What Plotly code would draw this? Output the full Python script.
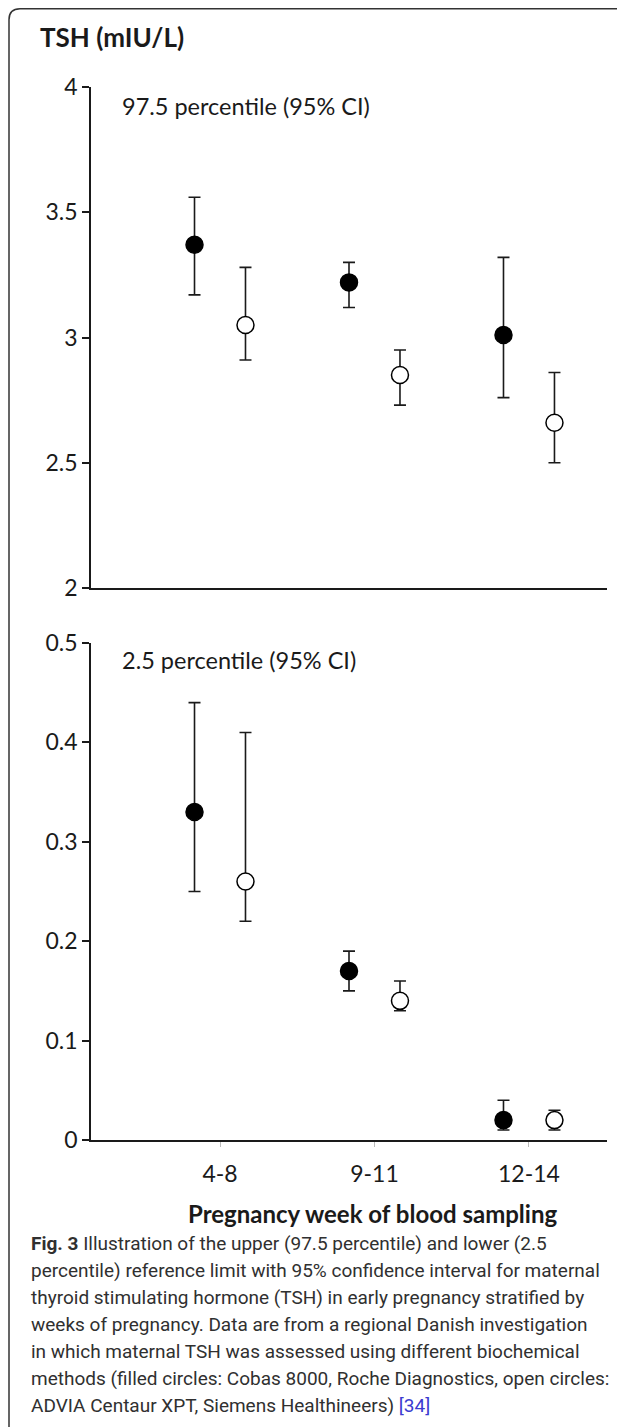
import plotly.graph_objects as go
from plotly.subplots import make_subplots

categories = ["4-8", "9-11", "12-14"]

# 97.5 percentile (upper reference limit)
upper_cobas = [3.37, 3.22, 3.01]
upper_cobas_lo = [3.17, 3.12, 2.76]
upper_cobas_hi = [3.56, 3.30, 3.32]
upper_advia = [3.05, 2.85, 2.66]
upper_advia_lo = [2.91, 2.73, 2.50]
upper_advia_hi = [3.28, 2.95, 2.86]

# 2.5 percentile (lower reference limit)
lower_cobas = [0.33, 0.17, 0.02]
lower_cobas_lo = [0.25, 0.15, 0.01]
lower_cobas_hi = [0.44, 0.19, 0.04]
lower_advia = [0.26, 0.14, 0.02]
lower_advia_lo = [0.22, 0.13, 0.01]
lower_advia_hi = [0.41, 0.16, 0.03]

caption_lines = [
    "<b>Fig. 3</b> Illustration of the upper (97.5 percentile) and lower (2.5",
    "percentile) reference limit with 95% confidence interval for maternal",
    "thyroid stimulating hormone (TSH) in early pregnancy stratified by",
    "weeks of pregnancy. Data are from a regional Danish investigation",
    "in which maternal TSH was assessed using different biochemical",
    "methods (filled circles: Cobas 8000, Roche Diagnostics, open circles:",
    "ADVIA Centaur XPT, Siemens Healthineers) <span style='color:#3b3bd0'>[34]</span>",
]

OFF = 8  # page body margin
W, H = 625 - OFF, 1427 - OFF
# plot area in page pixels
PL, PR, PT, PB = 91, 607, 87, 1140
ML, MT = PL - OFF, PT - OFF
MR = W - (PR - OFF)
MB = H - (PB - OFF)
PW = W - ML - MR
PH = H - MT - MB

def px(x, y):
    """page pixel -> paper coords"""
    return (x - PL) / PW, (PB - y) / PH

FONT = "Lato, 'Open Sans', sans-serif"
CAPFONT = "'Liberation Sans Narrow', Roboto, sans-serif"
INK = "#1a1a1a"

dodge = 0.165
idx = list(range(len(categories)))
x_f = [i - dodge for i in idx]
x_o = [i + dodge for i in idx]

fig = make_subplots(rows=2, cols=1)

def add_pair(row, v_f, lo_f, hi_f, v_o, lo_o, hi_o):
    for xs, v, lo, hi, fill in [(x_f, v_f, lo_f, hi_f, "black"), (x_o, v_o, lo_o, hi_o, "white")]:
        fig.add_trace(go.Scatter(
            x=xs, y=v, mode="markers",
            marker=dict(size=17, color=fill, line=dict(color="black", width=1.5)),
            error_y=dict(type="data", symmetric=False,
                         array=[h - m for h, m in zip(hi, v)],
                         arrayminus=[m - l for m, l in zip(v, lo)],
                         color=INK, thickness=1.6, width=6),
            showlegend=False, hoverinfo="skip"), row=row, col=1)

add_pair(1, upper_cobas, upper_cobas_lo, upper_cobas_hi, upper_advia, upper_advia_lo, upper_advia_hi)
add_pair(2, lower_cobas, lower_cobas_lo, lower_cobas_hi, lower_advia, lower_advia_lo, lower_advia_hi)

xr = [-0.835, 2.505]
axis_common = dict(showgrid=False, zeroline=False, showline=True, linecolor=INK, linewidth=1.5)
fig.update_xaxes(range=xr, **axis_common)
fig.update_xaxes(row=1, col=1, showticklabels=False, ticks="")
fig.update_xaxes(row=2, col=1, tickvals=idx, ticktext=categories, ticks="outside",
                 ticklen=5, tickcolor="#bbbbbb", tickwidth=1, ticklabelstandoff=8,
                 tickfont=dict(family=FONT, size=23, color=INK))
fig.update_yaxes(**axis_common, ticks="outside", ticklen=7, tickwidth=1.5, tickcolor=INK,
                 tickfont=dict(family=FONT, size=23, color=INK))
fig.update_yaxes(row=1, col=1, range=[2, 4], dtick=0.5, domain=[(PB - 588) / PH, 1])
fig.update_yaxes(row=2, col=1, range=[0, 0.5], dtick=0.1, domain=[0, (PB - 643) / PH])
fig.update_xaxes(row=1, col=1, anchor="y")
fig.update_xaxes(row=2, col=1, anchor="y2")

ann = []
def text(x, y, t, size, bold=False, anchor="left", font=FONT, color=INK):
    xp, yp = px(x, y)
    ann.append(dict(x=xp, y=yp, xref="paper", yref="paper", text=(f"<b>{t}</b>" if bold else t),
                    showarrow=False, xanchor=anchor, yanchor="middle",
                    font=dict(family=font, size=size, color=color)))

text(38, 37, "TSH (mIU/L)", 26, bold=True)
text(120, 106, "97.5 percentile (95% CI)", 23.5)
text(120, 660, "2.5 percentile (95% CI)", 23.5)
text(372, 1213, "Pregnancy week of blood sampling", 24, bold=True, anchor="center")
for k, line in enumerate(caption_lines):
    text(29, 1243 + 27 * k, line, 19, font=CAPFONT, color="#303030")

# rounded frame around the figure (page pixels: left x=9, top y=7)
x0, _ = px(9, 0)
x1, _ = px(700, 0)
_, yt = px(0, 8.8)
_, yb = px(0, 1440)
rx, ry = 11 / PW, 11 / PH
path = f"M {x0},{yb} L {x0},{yt - ry} Q {x0},{yt} {x0 + rx},{yt} L {x1},{yt}"
fig.update_layout(
    width=W, height=H, margin=dict(l=ML, r=MR, t=MT, b=MB),
    paper_bgcolor="white", plot_bgcolor="white",
    annotations=ann,
    shapes=[dict(type="path", path=path, xref="paper", yref="paper",
                 line=dict(color="#333333", width=1.5))],
)
fig.write_html("out.html")
